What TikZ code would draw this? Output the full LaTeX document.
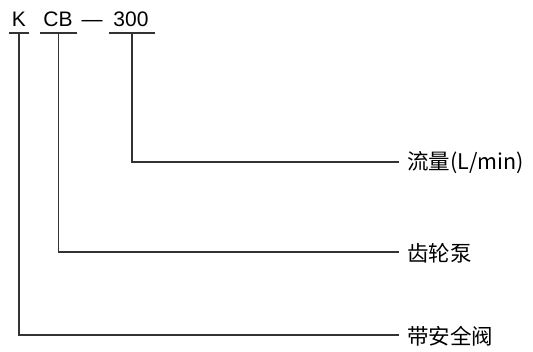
\documentclass[tikz,border=0pt]{standalone}
\usepackage{fontspec}
\setmainfont{Liberation Sans}
\newfontfamily\cjk{Noto Sans CJK SC}
\usetikzlibrary{positioning}
\tikzstyle{line}=[black!80,line width=1.1pt]
\tikzstyle{code}=[anchor=base,inner sep=0pt,font=\fontsize{21}{24}\selectfont]
\tikzstyle{label}=[anchor=west,inner sep=0pt,font=\cjk\fontsize{21.5}{24}\selectfont]

\begin{document}
\begin{tikzpicture}[x=1pt,y=-1pt]
	\useasboundingbox (0,0) rectangle (533,352);

	% model code
	\node[code] (k) at (19,27) {K};
	\node[code] (cb) at (58,27) {CB};
	\node[code] (dash) at (92,27) {---};
	\node[code] (num) at (131,27) {300};

	% underlines
	\draw[line] (9,33) -- coordinate (k top) (29,33);
	\draw[line] (40,33) -- coordinate (cb top) (77,33);
	\draw[line] (109,33) -- coordinate (num top) (155,33);

	% meanings
	\node[label] (flow) at (407,163) {流量(L/min)};
	\node[label] (pump) at (407,253) {齿轮泵};
	\node[label] (valve) at (407,336) {带安全阀};

	%leaders
	\draw[line] (num top) |- ([xshift=-8pt]flow.west |- 0,162);
	\draw[line] (cb top) |- ([xshift=-8pt]pump.west |- 0,252);
	\draw[line] (k top) |- ([xshift=-8pt]valve.west |- 0,335);
\end{tikzpicture}
\end{document}
